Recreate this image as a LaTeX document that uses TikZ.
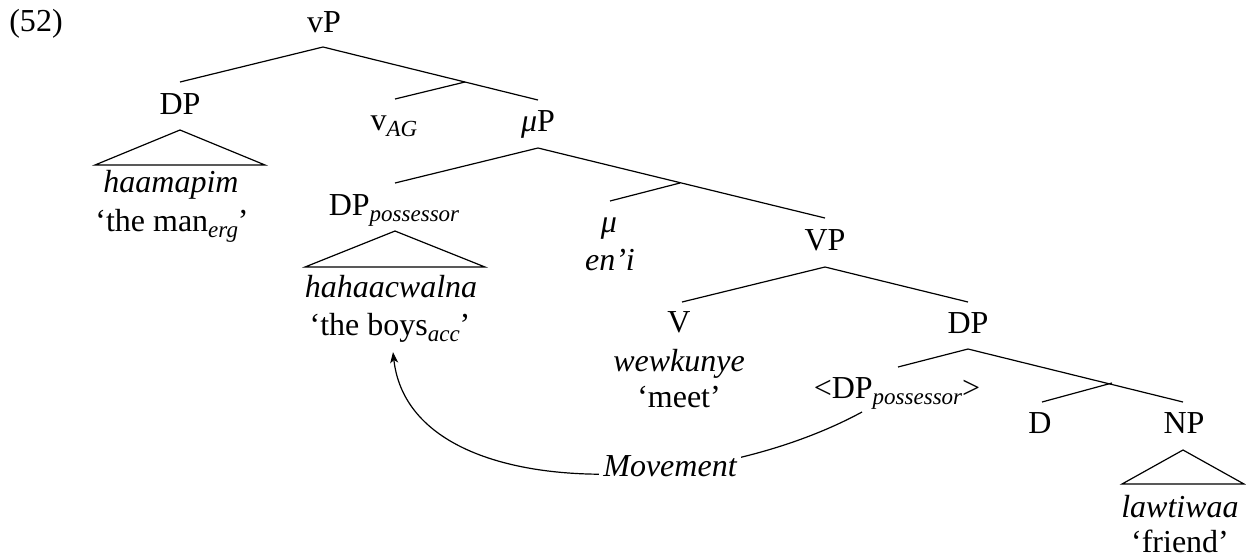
\documentclass[tikz,border=0pt]{standalone}
\usepackage{fontspec}
\setmainfont{Liberation Serif}
\usetikzlibrary{arrows.meta}
\newcommand\sbs[1]{\raisebox{-6pt}{\fontsize{23}{23}\selectfont\itshape #1}}
\begin{document}
\begin{tikzpicture}[x=1pt,y=-1pt,
  lbl/.style={inner sep=0pt, anchor=base, font=\fontsize{32}{38}\selectfont},
  ilbl/.style={lbl, font=\fontsize{32}{38}\selectfont\itshape},
  branch/.style={line width=1.2pt},
  movearrow/.style={line width=1.2pt, -{Stealth[length=11pt,width=8pt,inset=3pt]}}]
\useasboundingbox (0,0) rectangle (1246,558);
% labels
\node[lbl] (ex) at (36,31.5) {(52)};
\node[lbl] (vP) at (324,32) {vP};
\node[lbl] (DPa) at (180,114) {DP};
\node[ilbl] (haam) at (171,192) {haamapim};
\node[lbl] (man) at (172,231) {‘the man\sbs{erg}’};
\node[lbl] (vAG) at (394,130) {v\sbs{AG}};
\node[lbl] (muP) at (538,131) {\textit{μ}P};
\node[lbl] (DPp) at (394,215) {DP\sbs{possessor}};
\node[ilbl] (hah) at (391,297) {hahaacwalna};
\node[lbl] (boys) at (390,335) {‘the boys\sbs{acc}’};
\node[ilbl] (mu) at (609,232) {μ};
\node[ilbl] (eni) at (610,270) {en’i};
\node[lbl] (VP) at (825,250) {VP};
\node[lbl] (V) at (679,332) {V};
\node[ilbl] (wew) at (679,371) {wewkunye};
\node[lbl] (meet) at (679,407) {‘meet’};
\node[lbl] (DPb) at (968,333) {DP};
\node[lbl] (trace) at (897,398) {\textless DP\sbs{possessor}\textgreater};
\node[lbl] (D) at (1040,433) {D};
\node[lbl] (NP) at (1184,433) {NP};
\node[ilbl] (law) at (1180,517) {lawtiwaa};
\node[lbl] (fr) at (1180,552) {‘friend’};
% branch points
\coordinate (a1) at (323,47);
\coordinate (a1l) at (180,82);
\coordinate (a1r) at (538,100);
\coordinate (j1) at (465,82);
\coordinate (j1l) at (395,99);
\coordinate (a2) at (538,148);
\coordinate (a2l) at (395,183);
\coordinate (a2r) at (825,218);
\coordinate (j2) at (680,183);
\coordinate (j2l) at (610,201);
\coordinate (a3) at (825,267);
\coordinate (a3l) at (682,302);
\coordinate (a3r) at (968,302);
\coordinate (a4) at (968,349);
\coordinate (a4l) at (898,367);
\coordinate (a4r) at (1183,402);
\coordinate (j4) at (1112,383);
\coordinate (j4l) at (1042,402);
\draw[branch] (a1l) -- (a1) -- (a1r);
\draw[branch] (j1l) -- (j1);
\draw[branch] (a2l) -- (a2) -- (a2r);
\draw[branch] (j2l) -- (j2);
\draw[branch] (a3l) -- (a3) -- (a3r);
\draw[branch] (a4l) -- (a4) -- (a4r);
\draw[branch] (j4l) -- (j4);
% triangles
\draw[branch] (180,130) -- (95,165) -- (265,165) -- cycle;
\draw[branch] (395,231) -- (305,267) -- (485,267) -- cycle;
\draw[branch] (1183,450) -- (1122,484) -- (1244,484) -- cycle;
% movement
\coordinate (mvs) at (862,412);
\coordinate (mve) at (393,352);
\draw[movearrow] (mvs) .. controls (700,500) and (410,505) .. (mve);
\node[ilbl, fill=white, inner sep=4pt] (mvlab) at (670,476) {Movement};
\end{tikzpicture}
\end{document}
